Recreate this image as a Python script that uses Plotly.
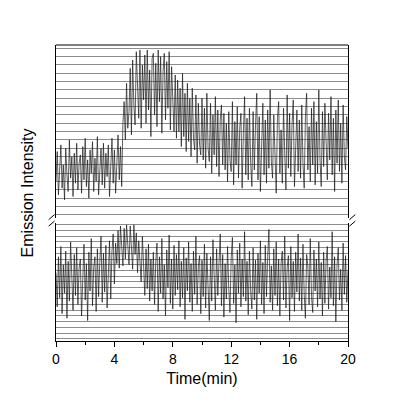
import plotly.graph_objects as go

# time axis: one sample every 5 s, 0..20 min
n_points = 241
time_min = [i * 5 / 60 for i in range(n_points)]

upper_trace = [
    20, 38, 12, 33, 42, 16, 30, 9, 40, 24, 14, 45, 22, 35, 11, 37, 19, 43, 15, 31,
    36, 13, 41, 21, 46, 17, 33, 10, 39, 25, 44, 14, 34, 20, 47, 12, 31, 40, 18, 43,
    16, 37, 23, 42, 11, 34, 46, 19, 39, 13, 35, 48, 21, 41, 17, 55, 68, 45, 79, 52,
    62, 88, 48, 93, 66, 54, 98, 71, 58, 99, 52, 90, 69, 96, 55, 99, 63, 87, 47, 94,
    97, 60, 91, 53, 99, 68, 95, 49, 86, 97, 57, 92, 64, 98, 51, 89, 62, 50, 84, 46,
    81, 50, 76, 41, 85, 47, 73, 38, 79, 44, 70, 35, 76, 46, 39, 72, 31, 67, 42, 36,
    70, 33, 64, 28, 73, 40, 32, 67, 25, 60, 36, 71, 29, 63, 23, 57, 66, 30, 61, 27,
    55, 20, 62, 33, 26, 68, 18, 56, 30, 65, 22, 52, 61, 16, 49, 71, 24, 58, 21, 64,
    31, 17, 62, 27, 54, 73, 21, 59, 14, 50, 67, 24, 57, 19, 63, 28, 75, 32, 22, 60,
    35, 13, 58, 68, 25, 51, 19, 64, 37, 15, 72, 28, 61, 23, 54, 69, 17, 50, 63, 26,
    57, 22, 66, 31, 16, 59, 73, 27, 53, 20, 64, 30, 68, 18, 56, 25, 75, 33, 17, 62,
    29, 67, 36, 21, 61, 33, 71, 24, 58, 14, 63, 31, 69, 26, 55, 19, 66, 35, 27, 59,
    40,
]

lower_trace = [
    58, 28, 72, 36, 81, 22, 65, 40, 77, 18, 68, 33, 85, 47, 25, 74, 38, 80, 30, 62,
    70, 20, 61, 83, 34, 66, 16, 76, 42, 88, 29, 63, 72, 24, 79, 37, 67, 90, 32, 75,
    41, 82, 27, 69, 86, 35, 77, 92, 48, 84, 66, 95, 62, 99, 78, 64, 97, 70, 100, 80,
    65, 99, 82, 61, 100, 74, 93, 58, 86, 67, 50, 90, 57, 38, 79, 44, 83, 33, 70, 42,
    76, 30, 68, 84, 24, 72, 40, 88, 35, 65, 20, 78, 45, 91, 31, 70, 26, 82, 38, 74,
    43, 86, 28, 68, 36, 80, 17, 71, 42, 85, 32, 66, 24, 77, 39, 90, 30, 64, 73, 22,
    69, 37, 83, 27, 75, 41, 16, 72, 33, 87, 45, 25, 79, 38, 67, 92, 29, 74, 19, 66,
    35, 81, 44, 23, 71, 89, 31, 65, 14, 78, 40, 84, 28, 70, 37, 94, 33, 68, 21, 77,
    42, 26, 80, 34, 69, 17, 75, 40, 86, 30, 67, 22, 82, 37, 72, 96, 32, 64, 25, 79,
    38, 85, 29, 70, 20, 66, 77, 34, 90, 27, 62, 73, 16, 81, 36, 68, 24, 76, 41, 92,
    33, 71, 25, 83, 39, 18, 74, 64, 30, 88, 37, 23, 78, 42, 70, 28, 85, 35, 67, 20,
    76, 31, 68, 81, 26, 63, 36, 94, 29, 72, 15, 65, 80, 34, 61, 25, 84, 39, 73, 32,
    60,
]

x_ticks = [0, 4, 8, 12, 16, 20]
x_tick_labels = ["0", "4", "8", "12", "16", "20"]

FONT = "Liberation Sans, Arial, sans-serif"
LINE = dict(color="#1a1a1a", width=0.7)

fig = go.Figure()
fig.add_trace(go.Scatter(x=time_min, y=lower_trace, mode="lines", line=LINE,
                         xaxis="x", yaxis="y", showlegend=False))
fig.add_trace(go.Scatter(x=time_min, y=upper_trace, mode="lines", line=LINE,
                         xaxis="x", yaxis="y2", showlegend=False))

yax_common = dict(range=[-2, 102], showticklabels=False, ticks="", showline=True,
                  mirror=True, linecolor="black", linewidth=1.2,
                  showgrid=True, gridcolor="#8c8c8c", gridwidth=0.5, dtick=5,
                  zeroline=False)

fig.update_layout(
    width=397, height=409,
    margin=dict(l=56, r=49, t=45, b=68),
    paper_bgcolor="white", plot_bgcolor="white",
    font=dict(family=FONT, color="black"),
    xaxis=dict(range=[0, 20], tickvals=x_ticks, ticktext=x_tick_labels,
               ticks="outside", ticklen=5, tickwidth=1, tickcolor="black",
               minor=dict(dtick=2, ticks="outside", ticklen=3, tickcolor="black"),
               showline=True, linecolor="black", linewidth=1.2, mirror=False,
               showgrid=False, zeroline=False, anchor="y",
               tickfont=dict(size=14, family=FONT),
               title=dict(text="Time(min)", font=dict(size=16, family=FONT), standoff=6)),
    yaxis=dict(domain=[0, 0.40], anchor="x", **yax_common),
    yaxis2=dict(domain=[0.415, 1], anchor="x", **yax_common),
    shapes=[
        # top frame line
        dict(type="line", xref="paper", yref="paper", x0=0, x1=1, y0=1, y1=1,
             line=dict(color="black", width=1.2)),
        # axis break marks
        dict(type="line", xref="paper", yref="paper", x0=-0.025, x1=-0.005, y0=0.388, y1=0.405,
             line=dict(color="black", width=1)),
        dict(type="line", xref="paper", yref="paper", x0=-0.025, x1=-0.005, y0=0.410, y1=0.427,
             line=dict(color="black", width=1)),
        dict(type="line", xref="paper", yref="paper", x0=1.005, x1=1.025, y0=0.388, y1=0.405,
             line=dict(color="black", width=1)),
        dict(type="line", xref="paper", yref="paper", x0=1.005, x1=1.025, y0=0.410, y1=0.427,
             line=dict(color="black", width=1)),
    ],
    annotations=[
        dict(text="Emission Intensity", xref="paper", yref="paper", x=-0.062, y=0.5,
             textangle=-90, showarrow=False, xanchor="right", yanchor="middle",
             font=dict(size=16, family=FONT)),
    ],
)

fig.write_html("out.html")
